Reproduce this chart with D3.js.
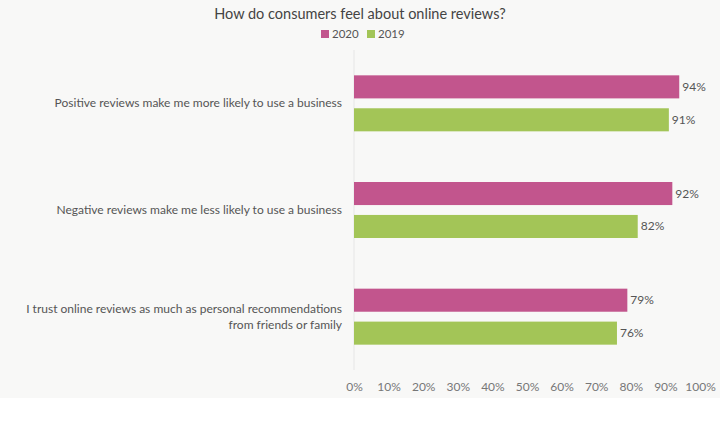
<!DOCTYPE html>
<html>
<head>
<meta charset="utf-8">
<script src="https://cdn.jsdelivr.net/npm/d3@7"></script>
<style>
  body { margin: 0; background: #fff; }
  text { font-family: Lato, "Noto Sans", sans-serif; }
</style>
</head>
<body>
<svg id="chart"></svg>
<script>
const categories = [
  "Positive reviews make me more likely to use a business",
  "Negative reviews make me less likely to use a business",
  "I trust online reviews as much as personal recommendations|from friends or family"
];
const seriesNames = ["2020", "2019"];
const values2020 = [94, 92, 79];
const values2019 = [91, 82, 76];
const ticks = [0, 10, 20, 30, 40, 50, 60, 70, 80, 90, 100];
const colors = ["#c2558d", "#a3c557"];

const width = 720, height = 435;
const margin = { top: 50, right: 20, bottom: 65, left: 354 };

const svg = d3.select("#chart").attr("width", width).attr("height", height);

svg.append("rect").attr("width", width).attr("height", 398).attr("fill", "#f8f8f7");

const x = d3.scaleLinear().domain([0, 100]).range([margin.left, 700]);
const y = d3.scaleBand().domain(categories).range([margin.top, height - margin.bottom]);
const inner = d3.scaleBand().domain(seriesNames).range([0, 56]).paddingInner(0.3);

svg.append("text")
  .attr("x", width / 2).attr("y", 19)
  .attr("text-anchor", "middle")
  .attr("font-size", 14.5).attr("fill", "#444")
  .text("How do consumers feel about online reviews?");

// legend
const legend = svg.append("g").attr("transform", "translate(321,29)");
seriesNames.forEach((s, i) => {
  const g = legend.append("g").attr("transform", `translate(${i * 46},0)`);
  g.append("rect").attr("width", 8).attr("height", 8).attr("y", 1).attr("fill", colors[i]);
  g.append("text").attr("x", 11).attr("y", 9).attr("font-size", 11.5).attr("fill", "#555").text(s);
});

// axis line
svg.append("line")
  .attr("x1", x(0)).attr("x2", x(0))
  .attr("y1", margin.top).attr("y2", height - margin.bottom)
  .attr("stroke", "#e6e6e6");

const data = categories.map((c, i) => ({ c, vals: [values2020[i], values2019[i]] }));

const groups = svg.selectAll("g.grp").data(data).join("g")
  .attr("class", "grp")
  .attr("transform", d => `translate(0,${y(d.c) + y.bandwidth() / 2 - 28})`);

groups.selectAll("rect").data(d => d.vals.map((v, i) => ({ v, s: seriesNames[i], i })))
  .join("rect")
  .attr("x", x(0))
  .attr("y", d => inner(d.s))
  .attr("width", d => x(d.v) - x(0))
  .attr("height", inner.bandwidth())
  .attr("fill", d => colors[d.i]);

groups.selectAll("text.val").data(d => d.vals.map((v, i) => ({ v, s: seriesNames[i] })))
  .join("text")
  .attr("class", "val")
  .attr("x", d => x(d.v) + 3)
  .attr("y", d => inner(d.s) + inner.bandwidth() / 2 + 4)
  .attr("font-size", 12).attr("fill", "#555")
  .text(d => d.v + "%");

groups.each(function (d) {
  const lines = d.c.split("|");
  const t = d3.select(this).append("text")
    .attr("text-anchor", "end")
    .attr("font-size", 12).attr("fill", "#555");
  lines.forEach((l, k) => {
    t.append("tspan")
      .attr("x", 342)
      .attr("y", 28 + 4 + (k - (lines.length - 1) / 2) * 16)
      .text(l);
  });
});

const xAxis = d3.axisBottom(x).tickValues(ticks).tickFormat(d => d + "%").tickSize(0).tickPadding(0);
const ax = svg.append("g")
  .attr("transform", `translate(0,${height - margin.bottom + 12})`)
  .call(xAxis);
ax.select(".domain").remove();
ax.selectAll("text").attr("font-size", 12).attr("fill", "#777")
  .style("font-family", "Lato, 'Noto Sans', sans-serif");
</script>
</body>
</html>
